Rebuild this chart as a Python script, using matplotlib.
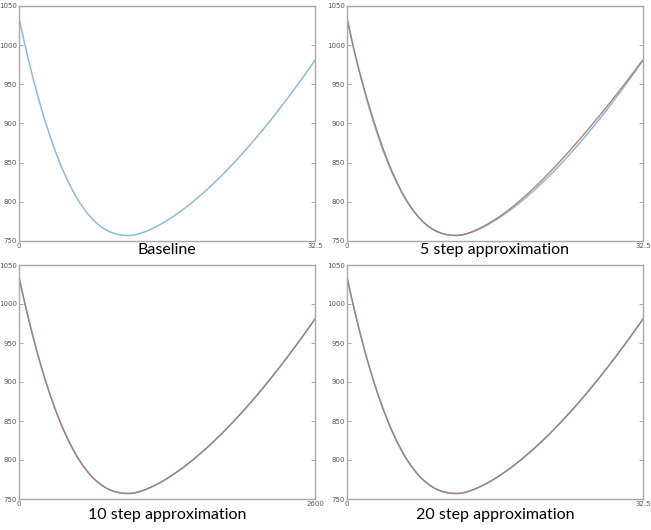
import matplotlib
matplotlib.use("Agg")
import matplotlib.pyplot as plt

# sample positions along the run, every half unit from 0 to 32.5
x = [i * 0.5 for i in range(66)]

baseline = [1034.5, 1008.0, 983.1, 959.7, 937.8, 917.3, 898.3, 880.6, 864.3, 849.3,
            835.6, 823.2, 812.0, 802.0, 793.1, 785.4, 778.7, 773.0, 768.3, 764.5,
            761.6, 759.5, 758.1, 757.3, 757.0, 757.4, 758.6, 760.4, 762.6, 765.1,
            767.9, 771.0, 774.4, 778.0, 781.8, 785.9, 790.1, 794.6, 799.2, 804.1,
            809.1, 814.2, 819.6, 825.1, 830.7, 836.5, 842.5, 848.6, 854.9, 861.3,
            867.8, 874.5, 881.3, 888.2, 895.3, 902.4, 909.8, 917.2, 924.8, 932.4,
            940.2, 948.1, 956.1, 964.3, 972.5, 981.0]

approx5 = [1034.5, 1007.5, 982.5, 960.5, 939.5, 919.5, 901.0, 883.5, 867.0, 851.5,
           837.5, 824.5, 813.0, 802.5, 793.5, 785.5, 778.5, 772.8, 768.0, 764.2,
           761.4, 759.4, 758.0, 757.3, 757.1, 757.6, 758.9, 760.8, 763.1, 765.8,
           768.7, 772.0, 775.5, 779.3, 783.3, 787.5, 792.0, 796.7, 801.6, 806.7,
           812.0, 817.4, 823.0, 828.7, 834.6, 840.6, 846.8, 853.0, 859.4, 865.9,
           872.5, 879.2, 886.0, 892.9, 899.9, 906.9, 914.0, 921.2, 928.5, 935.8,
           943.2, 950.7, 958.3, 965.9, 973.6, 981.2]

approx10 = [1034.5, 1008.1, 983.2, 959.8, 937.9, 917.4, 898.4, 880.7, 864.4, 849.4,
            835.7, 823.3, 812.1, 802.1, 793.2, 785.4, 778.7, 773.0, 768.3, 764.5,
            761.6, 759.5, 758.1, 757.3, 757.0, 757.4, 758.6, 760.4, 762.7, 765.2,
            768.0, 771.1, 774.5, 778.1, 782.0, 786.1, 790.3, 794.8, 799.4, 804.3,
            809.3, 814.4, 819.8, 825.3, 830.9, 836.7, 842.7, 848.8, 855.1, 861.5,
            868.0, 874.7, 881.5, 888.4, 895.5, 902.6, 909.9, 917.3, 924.9, 932.5,
            940.3, 948.2, 956.2, 964.3, 972.5, 981.0]

approx20 = [1034.5, 1008.0, 983.1, 959.7, 937.8, 917.3, 898.3, 880.6, 864.3, 849.3,
            835.6, 823.2, 812.0, 802.0, 793.1, 785.4, 778.7, 773.0, 768.3, 764.5,
            761.6, 759.5, 758.1, 757.3, 757.0, 757.4, 758.6, 760.4, 762.6, 765.1,
            767.9, 771.0, 774.4, 778.0, 781.9, 786.0, 790.2, 794.7, 799.3, 804.2,
            809.2, 814.3, 819.7, 825.2, 830.8, 836.6, 842.6, 848.7, 855.0, 861.4,
            867.9, 874.6, 881.4, 888.3, 895.4, 902.5, 909.8, 917.2, 924.8, 932.4,
            940.2, 948.1, 956.1, 964.3, 972.5, 981.0]

captions = ["Baseline", "5 step approximation",
            "10 step approximation", "20 step approximation"]
x_max = [32.5, 32.5, 2600, 32.5]
x_tick_labels = [["0", "32.5"], ["0", "32.5"], ["0", "2600"], ["0", "32.5"]]
y_ticks = [750, 800, 850, 900, 950, 1000, 1050]

BLUE = "#8bbbd8"
RED = "#a5766b"

fig = plt.figure(figsize=(6.51, 5.30), dpi=100)

W, H = 651.0, 530.0
# axes boxes in pixels: left, top, right, bottom
boxes = [(19, 6, 315, 241), (347, 6, 643, 241),
         (19, 265, 315, 499), (347, 265, 643, 499)]
cap_y = [250, 250, 515, 515]
overlays = [None, approx5, approx10, approx20]

for i, (l, t, r, b) in enumerate(boxes):
    ax = fig.add_axes([l / W, 1 - b / H, (r - l) / W, (b - t) / H])
    scale = x_max[i] / 32.5
    xs = [v * scale for v in x]
    ax.plot(xs, baseline, color=BLUE, lw=1.1)
    if overlays[i] is not None:
        ax.plot(xs, overlays[i], color=RED, lw=1.0, alpha=0.9)
    ax.set_xlim(0, x_max[i])
    ax.set_ylim(750, 1050)
    ax.set_xticks([0, x_max[i]])
    ax.set_xticklabels(x_tick_labels[i])
    ax.set_yticks(y_ticks)
    ax.tick_params(direction="in", length=3, width=0.6, colors="#999999",
                   labelcolor="#555555", labelsize=5.0, pad=1.5,
                   top=True, right=True)
    for s in ax.spines.values():
        s.set_color("#a8a8a8")
        s.set_linewidth(1.0)
    fig.text(((l + r) / 2) / W, 1 - cap_y[i] / H, captions[i],
             ha="center", va="center", fontsize=11.5, family="Lato",
             color="black")

fig.savefig("out.png", dpi=100)
